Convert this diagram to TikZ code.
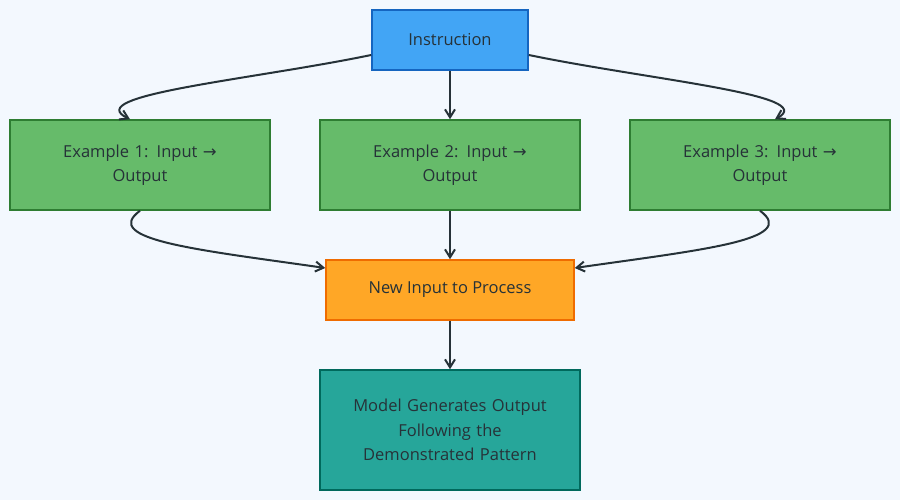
\documentclass[tikz,border=0pt]{standalone}
\usepackage{fontspec}
\setmainfont{Open Sans}
\newfontfamily\arrfont{DejaVu Sans}
\usetikzlibrary{arrows.meta}
\definecolor{bg}{HTML}{F3F8FE}
\definecolor{bfill}{HTML}{42A5F5}\definecolor{bline}{HTML}{1565C0}
\definecolor{gfill}{HTML}{66BB6A}\definecolor{gline}{HTML}{2E7D32}
\definecolor{ofill}{HTML}{FFA726}\definecolor{oline}{HTML}{EF6C00}
\definecolor{tfill}{HTML}{26A69A}\definecolor{tline}{HTML}{00695C}
\definecolor{txt}{HTML}{263238}
\newcommand{\rarr}{{\arrfont →}}
\begin{document}
\begin{tikzpicture}[x=1pt,y=-1pt,
  box/.style={draw,line width=1.5pt,align=center,text=txt,font=\fontsize{16.5}{24.5}\selectfont,inner sep=0pt},
  arr/.style={-{Straight Barb[length=8pt,width=10pt]},line width=2pt,draw=txt}]
\fill[bg] (0,0) rectangle (900,500);
\useasboundingbox (0,0) rectangle (900,500);
\node[box,fill=bfill,draw=bline,minimum width=156pt,minimum height=60pt] (ins) at (450,40) {Instruction};
\node[box,fill=gfill,draw=gline,minimum width=260pt,minimum height=90pt,text width=240pt] (e1) at (140,165) {Example 1: Input \rarr\\Output};
\node[box,fill=gfill,draw=gline,minimum width=260pt,minimum height=90pt,text width=240pt] (e2) at (450,165) {Example 2: Input \rarr\\Output};
\node[box,fill=gfill,draw=gline,minimum width=260pt,minimum height=90pt,text width=240pt] (e3) at (760,165) {Example 3: Input \rarr\\Output};
\node[box,fill=ofill,draw=oline,minimum width=248pt,minimum height=60pt] (ni) at (450,290) {New Input to Process};
\node[box,fill=tfill,draw=tline,minimum width=260pt,minimum height=120pt,text width=240pt] (mo) at (450,430) {Model Generates Output\\Following the\\Demonstrated Pattern};
\draw[arr] (ins.west|-0,55) .. controls (250,80) and (80,95) .. (e1.north-|130,0);
\draw[arr] (ins.south) -- (e2.north);
\draw[arr] (ins.east|-0,55) .. controls (650,80) and (820,95) .. (e3.north-|775,0);
\draw[arr] (e1.south-|140,0) .. controls (100,240) and (200,250) .. (ni.west|-0,268);
\draw[arr] (e2.south) -- (ni.north);
\draw[arr] (e3.south-|760,0) .. controls (800,240) and (700,250) .. (ni.east|-0,268);
\draw[arr] (ni.south) -- (mo.north);
\end{tikzpicture}
\end{document}
